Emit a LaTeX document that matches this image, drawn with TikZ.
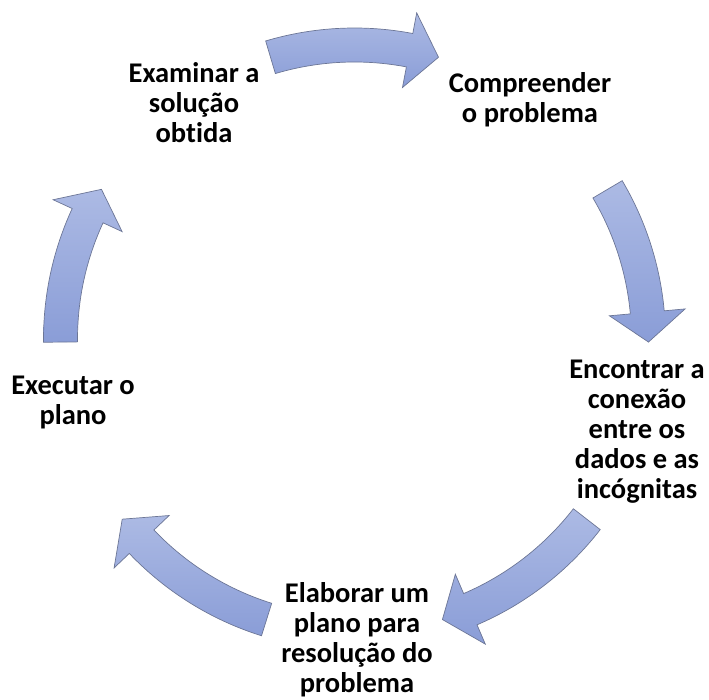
\documentclass[tikz,border=0pt]{standalone}
\usepackage{fontspec}
\setmainfont{Carlito}[RawFeature={-liga}]
\definecolor{arrowtop}{RGB}{172,186,228}
\definecolor{arrowbot}{RGB}{138,157,215}
\definecolor{arrowline}{RGB}{108,118,150}
\newcommand{\cycarrow}[2]{%
  \pgfmathsetmacro\cyb{#2+5.8}%
  \path[cycarrowstyle] (#1:311) arc[start angle=#1,end angle=\cyb,radius=311]
    -- (\cyb:332) -- (#2:294) -- (\cyb:256) -- (\cyb:277)
    arc[start angle=\cyb,end angle=#1,radius=277] -- cycle;}
\begin{document}
\begin{tikzpicture}[x=1pt,y=1pt,
  cycarrowstyle/.style={top color=arrowtop,bottom color=arrowbot,draw=arrowline,line width=0.7pt,line join=miter},
  lbl/.style={font=\fontsize{28.5}{30}\selectfont\bfseries,align=center,inner sep=0pt,text=black}]
\useasboundingbox (0,0) rectangle (709,700);
\begin{scope}[shift={(354.5,361)}]
  \cycarrow{106.6}{73.4}
  \cycarrow{30.6}{-0.6}
  \cycarrow{-37.8}{-72.6}
  \cycarrow{-107.4}{-142.2}
  \cycarrow{180.6}{149.4}
\end{scope}
\node[lbl] (compreender) at (530,600) {Compreender\\o problema};
\node[lbl] (encontrar) at (637,268) {Encontrar a\\conexão\\entre os\\dados e as\\incógnitas};
\node[lbl] (elaborar) at (357,60) {Elaborar um\\plano para\\resolução do\\problema};
\node[lbl] (executar) at (73,297) {Executar o\\plano};
\node[lbl] (examinar) at (194,597) {Examinar a\\solução\\obtida};
\end{tikzpicture}
\end{document}
